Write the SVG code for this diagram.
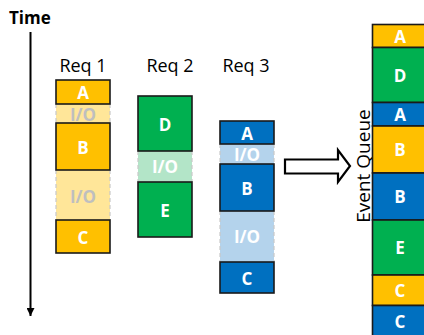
<svg xmlns="http://www.w3.org/2000/svg" width="424" height="335" viewBox="0 0 424 335">
<style>
text{font-family:"Open Sans","Liberation Sans",sans-serif}
.lbl{font-size:18px;fill:#000}
.blk{stroke:#1a1a1a;stroke-width:1.6}
.o{fill:#FFC000}.g{fill:#00B050}.b{fill:#0070C0}
.io-o{fill:#FFE699}.io-g{fill:#B3E5C8}.io-b{fill:#B4D3EC}
.side{stroke:#c8c8c8;stroke-width:1.2;stroke-dasharray:4 3;fill:none}
.t{font-size:17px;font-weight:bold;fill:#fff;text-anchor:middle;dominant-baseline:central}
.tg{font-size:17px;font-weight:bold;fill:#BFBFBF;text-anchor:middle;dominant-baseline:central}
</style>
<defs>
<marker id="ah" markerWidth="8" markerHeight="8" refX="4" refY="8" orient="0" markerUnits="userSpaceOnUse" viewBox="0 0 8 8">
<path d="M0,0 L8,0 L4,8 Z" fill="#000"/>
</marker>
</defs>
<rect width="424" height="335" fill="#fff"/>
<g id="time">
<text x="9" y="24" style="font-size:17px;font-weight:bold" fill="#000">Time</text>
</g>
<g id="connectors">
<line x1="30.5" y1="32" x2="30.5" y2="316" stroke="#000" stroke-width="2" marker-end="url(#ah)"/>
<path d="M285,159.5 L338,159.5 L338,150 L350,166 L338,182 L338,173.5 L285,173.5 Z" fill="#fff" stroke="#000" stroke-width="2.2" stroke-linejoin="miter"/>
</g>
<g id="req1">
<text class="lbl" x="83" y="72" text-anchor="middle">Req 1</text>
<rect class="io-o" x="56" y="104" width="54" height="19"/>
<path class="side" d="M56,104V123M110,104V123"/>
<text class="tg" x="83" y="114">I/O</text>
<rect class="io-o" x="56" y="170" width="54" height="50"/>
<path class="side" d="M56,170V220M110,170V220"/>
<text class="tg" x="83" y="196">I/O</text>
<rect class="blk o" x="56" y="80" width="54" height="24"/>
<text class="t" x="83" y="92">A</text>
<rect class="blk o" x="56" y="123" width="54" height="47"/>
<text class="t" x="83" y="147">B</text>
<rect class="blk o" x="56" y="220" width="54" height="33"/>
<text class="t" x="83" y="237">C</text>
</g>
<g id="req2">
<text class="lbl" x="170" y="72" text-anchor="middle">Req 2</text>
<rect class="io-g" x="138" y="151" width="54" height="31"/>
<path class="side" d="M138,151V182M192,151V182"/>
<text class="t" x="165" y="166">I/O</text>
<rect class="blk g" x="138" y="96" width="54" height="55"/>
<text class="t" x="165" y="124">D</text>
<rect class="blk g" x="138" y="182" width="54" height="55"/>
<text class="t" x="165" y="210">E</text>
</g>
<g id="req3">
<text class="lbl" x="246" y="72" text-anchor="middle">Req 3</text>
<rect class="io-b" x="220" y="144" width="54" height="20"/>
<path class="side" d="M220,144V164M274,144V164"/>
<text class="t" x="247" y="154">I/O</text>
<rect class="io-b" x="220" y="211" width="54" height="51"/>
<path class="side" d="M220,211V262M274,211V262"/>
<text class="t" x="247" y="236">I/O</text>
<rect class="blk b" x="220" y="121" width="54" height="23"/>
<text class="t" x="247" y="133">A</text>
<rect class="blk b" x="220" y="164" width="54" height="47"/>
<text class="t" x="247" y="188">B</text>
<rect class="blk b" x="220" y="262" width="54" height="31"/>
<text class="t" x="247" y="278">C</text>
</g>
<g id="queue">
<text class="lbl" transform="translate(370,166) rotate(-90)" text-anchor="middle" style="font-size:19px">Event Queue</text>
<rect class="blk o" x="372.5" y="24.5" width="54" height="23"/>
<text class="t" x="400" y="36">A</text>
<rect class="blk g" x="372.5" y="47.5" width="54" height="55"/>
<text class="t" x="400" y="75">D</text>
<rect class="blk b" x="372.5" y="102.5" width="54" height="23.5"/>
<text class="t" x="400" y="114">A</text>
<rect class="blk o" x="372.5" y="126" width="54" height="47"/>
<text class="t" x="400" y="149">B</text>
<rect class="blk b" x="372.5" y="173" width="54" height="47"/>
<text class="t" x="400" y="196">B</text>
<rect class="blk g" x="372.5" y="220" width="54" height="55"/>
<text class="t" x="400" y="247">E</text>
<rect class="blk o" x="372.5" y="275" width="54" height="30.5"/>
<text class="t" x="400" y="290">C</text>
<rect class="blk b" x="372.5" y="305.5" width="54" height="35"/>
<text class="t" x="400" y="321">C</text>
</g>
</svg>
